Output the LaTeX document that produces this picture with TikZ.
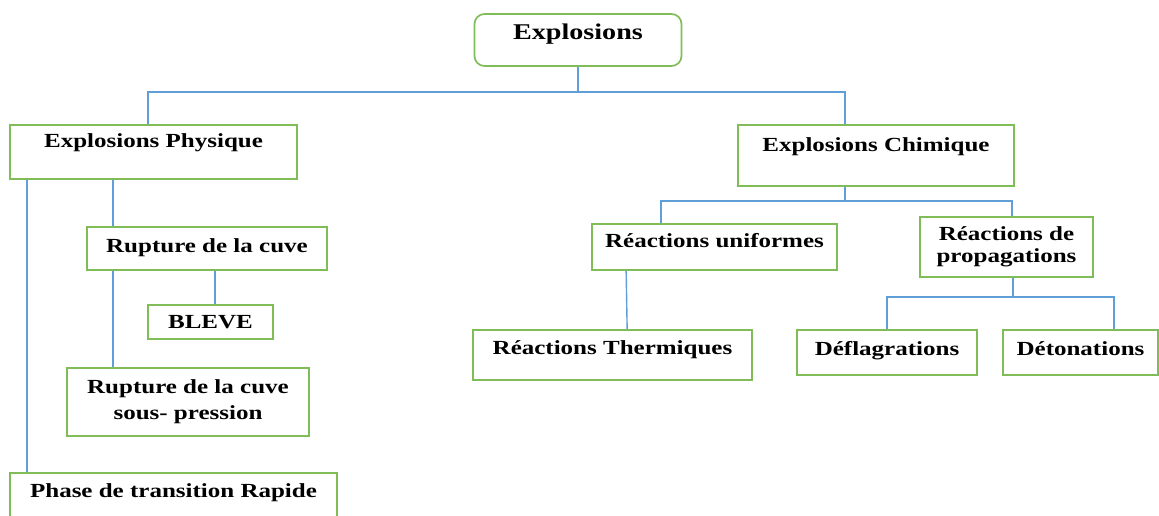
\documentclass[tikz,border=0pt]{standalone}
\usepackage{fontspec}
\setmainfont{Liberation Serif}[FakeStretch=1.25]
\usepackage{tikz}
\usetikzlibrary{shapes,arrows}
\definecolor{boxgreen}{RGB}{128,188,88}
\definecolor{linkblue}{RGB}{96,158,216}
\tikzstyle{line} = [draw, color=linkblue, line width=1.4pt]
\tikzstyle{box} = [rectangle, draw=boxgreen, line width=1.7pt, align=center, inner sep=0pt, font=\fontsize{20}{26}\selectfont\bfseries]
\tikzstyle{one_line} = [box, text height=13pt]
\tikzstyle{top_box} = [one_line, rounded corners=10pt, font=\fontsize{22.5}{27}\selectfont\bfseries, text height=15pt]

\begin{document}
\begin{tikzpicture}[x=1pt, y=-1pt]
		\useasboundingbox (0,0) rectangle (1159,516);
		\node [top_box, minimum width=207pt, minimum height=52pt, text depth=16pt] (expl) at (578,40) {Explosions};
		
		\node [one_line, minimum width=287pt, minimum height=54pt, text depth=22pt] (phys) at (153.5,152) {Explosions Physique};
		\node [one_line, minimum width=276pt, minimum height=61pt, text depth=21pt] (chim) at (876,155.5) {Explosions Chimique};
		
		\path [line] (expl.south) -- ++(0,25) -| ([xshift=-5.5pt]phys.north);
		\path [line] (expl.south) -- ++(0,25) -| ([xshift=-31pt]chim.north);
		
		% physical side
		\node [one_line, minimum width=240pt, minimum height=43pt, text depth=5pt] (rupt_cuve) at (207,248.5) {Rupture de la cuve};
		\node [one_line, minimum width=125pt, minimum height=34pt, text depth=0pt] (bleve) at (210.5,322) {BLEVE};
		\node [box, minimum width=242pt, minimum height=68pt] (rupt_press) at (188,402) {Rupture de la cuve\\sous- pression};
		\node [one_line, minimum width=327pt, minimum height=54pt, text depth=19pt] (phase_tr) at (173.5,500) {Phase de transition Rapide};
		
		\path [line] ([xshift=18pt]phys.south west) to ([xshift=18pt]phase_tr.north west);
		\path [line] ([xshift=104pt]phys.south west) to ([xshift=27pt]rupt_cuve.north west);
		\path [line] ([xshift=129pt]rupt_cuve.south west) to ([xshift=68pt]bleve.north west);
		\path [line] ([xshift=27pt]rupt_cuve.south west) to ([xshift=47pt]rupt_press.north west);
		
		% chemical side
		\node [one_line, minimum width=245pt, minimum height=46pt, text depth=12pt] (reac_unif) at (714.5,247) {Réactions uniformes};
		\node [box, minimum width=173pt, minimum height=60pt] (reac_prop) at (1006.5,247) {Réactions de\\[-4.5pt]propagations};
		\node [one_line, minimum width=279pt, minimum height=50pt, text depth=15pt] (reac_therm) at (612.5,355) {Réactions Thermiques};
		\node [one_line, minimum width=180pt, minimum height=45pt, text depth=8pt] (defl) at (887,352.5) {Déflagrations};
		\node [one_line, minimum width=155pt, minimum height=45pt, text depth=8pt] (deton) at (1080.5,352.5) {Détonations};
		
		\path [line] ([xshift=-31pt]chim.south) -- ++(0,14) -| ([xshift=70pt]reac_unif.north west);
		\path [line] ([xshift=-31pt]chim.south) -- ++(0,14) -| ([xshift=93pt]reac_prop.north west);
		\path [line] ([xshift=35pt]reac_unif.south west) to ([xshift=155pt]reac_therm.north west);
		\path [line] ([xshift=6.5pt]reac_prop.south) -- ++(0,19) -| (defl.north);
		\path [line] ([xshift=6.5pt]reac_prop.south) -- ++(0,19) -| ([xshift=112pt]deton.north west);
		\end{tikzpicture}
\end{document}
